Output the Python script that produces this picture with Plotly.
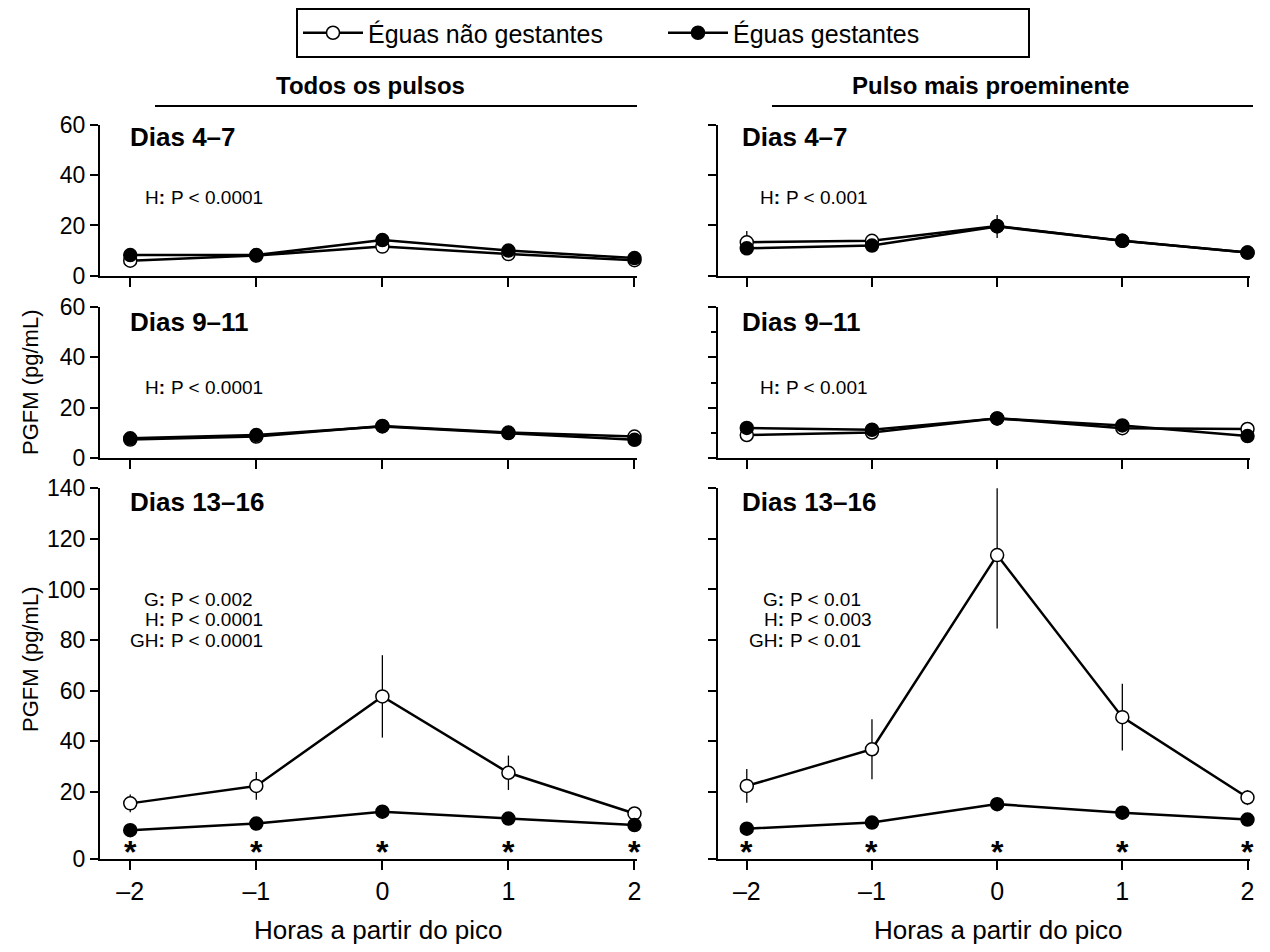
import plotly.graph_objects as go

# page has an 8px body margin; figure is sized to fit inside the window
OFF = 8
W, H = 1270 - 2 * OFF, 952 - 2 * OFF

hours = [-2, -1, 0, 1, 2]
hour_labels = ["–2", "–1", "0", "1", "2"]

series_names = ["Éguas não gestantes", "Éguas gestantes"]

# Todos os pulsos
all_d4_7_nao = [6.0, 8.0, 11.6, 8.6, 6.2]
all_d4_7_nao_err = [0.8, 0.6, 1.0, 0.8, 0.6]
all_d4_7_ges = [8.2, 8.2, 14.2, 10.0, 7.0]
all_d4_7_ges_err = [0.8, 0.6, 1.2, 0.8, 0.6]

all_d9_11_nao = [7.4, 8.6, 12.8, 10.2, 8.6]
all_d9_11_nao_err = [0.6, 0.6, 0.8, 0.6, 0.6]
all_d9_11_ges = [7.9, 9.2, 12.6, 10.0, 7.3]
all_d9_11_ges_err = [0.6, 0.6, 0.8, 0.6, 0.6]

all_d13_16_nao = [15.4, 22.3, 57.7, 27.5, 11.4]
all_d13_16_nao_err = [3.5, 5.5, 16.3, 6.8, 1.2]
all_d13_16_ges = [4.8, 7.4, 12.1, 9.4, 6.8]
all_d13_16_ges_err = [0.8, 0.8, 1.2, 1.0, 0.8]

# Pulso mais proeminente
top_d4_7_nao = [13.3, 13.9, 19.8, 13.9, 9.2]
top_d4_7_nao_err = [4.5, 2.5, 2.0, 1.0, 0.6]
top_d4_7_ges = [10.9, 12.0, 19.6, 13.9, 9.2]
top_d4_7_ges_err = [1.5, 1.0, 4.6, 1.5, 0.8]

top_d9_11_nao = [9.2, 10.2, 15.8, 11.9, 11.6]
top_d9_11_nao_err = [0.8, 0.8, 1.0, 0.8, 0.8]
top_d9_11_ges = [12.0, 11.3, 15.8, 13.0, 8.8]
top_d9_11_ges_err = [0.8, 0.8, 1.0, 0.8, 0.8]

top_d13_16_nao = [22.3, 36.8, 113.6, 49.5, 17.7]
top_d13_16_nao_err = [6.7, 11.9, 29.0, 13.2, 3.0]
top_d13_16_ges = [5.4, 7.8, 15.1, 11.7, 9.0]
top_d13_16_ges_err = [1.0, 1.0, 2.6, 2.0, 1.0]

panel_labels = ["Dias 4–7", "Dias 9–11", "Dias 13–16"]
col_titles = ["Todos os pulsos", "Pulso mais proeminente"]
stats_left = [["H: P < 0.0001"], ["H: P < 0.0001"],
              [("G", "P < 0.002"), ("H", "P < 0.0001"), ("GH", "P < 0.0001")]]
stats_right = [["H: P < 0.001"], ["H: P < 0.001"],
               [("G", "P < 0.01"), ("H", "P < 0.003"), ("GH", "P < 0.01")]]

y_ticks_small = [0, 20, 40, 60]
y_ticks_big = [20, 40, 60, 80, 100, 120, 140]
y_ticks_big_labels = ["20", "40", "60", "80", "100", "120", "140"]
asterisk_y = -4.0
big_bottom = -6.6

FONT = "Arial, Liberation Sans, sans-serif"


def fx(px):
    return (px - OFF) / W


def fy(py):
    return 1 - (py - OFF) / H


panels = [
    (all_d4_7_nao, all_d4_7_nao_err, all_d4_7_ges, all_d4_7_ges_err),
    (top_d4_7_nao, top_d4_7_nao_err, top_d4_7_ges, top_d4_7_ges_err),
    (all_d9_11_nao, all_d9_11_nao_err, all_d9_11_ges, all_d9_11_ges_err),
    (top_d9_11_nao, top_d9_11_nao_err, top_d9_11_ges, top_d9_11_ges_err),
    (all_d13_16_nao, all_d13_16_nao_err, all_d13_16_ges, all_d13_16_ges_err),
    (top_d13_16_nao, top_d13_16_nao_err, top_d13_16_ges, top_d13_16_ges_err),
]

x_domains = [[fx(100), fx(637)], [fx(718), fx(1250)]]
y_domains = [[fy(275.7), fy(125)], [fy(458.3), fy(306.7)], [fy(859), fy(488.3)]]
x_ranges = [[-2.24, 2.02], [-2.23, 2.02]]

fig = go.Figure()

for i, (nao, nao_e, ges, ges_e) in enumerate(panels):
    k = i + 1
    xa = "x" if k == 1 else f"x{k}"
    ya = "y" if k == 1 else f"y{k}"
    fig.add_trace(go.Scatter(
        x=hours, y=nao, xaxis=xa, yaxis=ya, mode="lines+markers",
        name=series_names[0], showlegend=(k == 1), legendrank=1,
        line=dict(color="black", width=2.5),
        marker=dict(symbol="circle", size=13, color="white",
                    line=dict(color="black", width=1.5)),
        error_y=dict(type="data", array=nao_e, visible=True, color="black",
                     thickness=1.3, width=0),
        cliponaxis=False,
    ))
    fig.add_trace(go.Scatter(
        x=hours, y=ges, xaxis=xa, yaxis=ya, mode="lines+markers",
        name=series_names[1], showlegend=(k == 1), legendrank=2,
        line=dict(color="black", width=2.5),
        marker=dict(symbol="circle", size=13, color="black",
                    line=dict(color="black", width=1.5)),
        error_y=dict(type="data", array=ges_e, visible=True, color="black",
                     thickness=1.3, width=0),
        cliponaxis=False,
    ))

layout = dict(
    width=W, height=H,
    margin=dict(l=0, r=0, t=0, b=0, autoexpand=False),
    paper_bgcolor="white", plot_bgcolor="white",
    font=dict(family=FONT, color="black", size=22),
    showlegend=True,
    legend=dict(
        orientation="h", x=fx(663), xanchor="center", y=fy(8), yanchor="top",
        bordercolor="black", borderwidth=2, bgcolor="white",
        font=dict(size=25, family=FONT), itemwidth=60,
        entrywidth=290, entrywidthmode="pixels",
    ),
)

for i in range(6):
    k = i + 1
    row, col = i // 2, i % 2
    xkey = "xaxis" if k == 1 else f"xaxis{k}"
    ykey = "yaxis" if k == 1 else f"yaxis{k}"
    yanchor = "y" if k == 1 else f"y{k}"
    xanchor = "x" if k == 1 else f"x{k}"
    bottom = row == 2
    layout[xkey] = dict(
        domain=x_domains[col], anchor=yanchor, range=x_ranges[col],
        showgrid=False, zeroline=False, showline=True, linecolor="black",
        linewidth=2, ticks="outside", ticklen=9, tickwidth=2, tickcolor="black",
        tickvals=hours, ticktext=hour_labels, showticklabels=bottom,
        tickfont=dict(size=25, family=FONT),
    )
    if bottom:
        yr = [big_bottom, 140]
        tv = [big_bottom] + y_ticks_big
        tt = ["0"] + y_ticks_big_labels
    else:
        yr = [0, 60]
        tv = y_ticks_small
        tt = [str(v) for v in y_ticks_small]
    yd = dict(
        domain=y_domains[row], anchor=xanchor, range=yr,
        showgrid=False, zeroline=False, showline=True, linecolor="black",
        linewidth=2, ticks="outside", ticklen=8, tickwidth=2, tickcolor="black",
        tickvals=tv, ticktext=tt, showticklabels=(col == 0),
        tickfont=dict(size=23, family=FONT),
    )
    if col == 1 and row == 1:
        yd["minor"] = dict(ticks="outside", ticklen=5, tickwidth=1.5,
                           tickcolor="black", dtick=10, tick0=0)
    layout[ykey] = yd

annotations = []
shapes = []

title_cx = [370, 990]
line_x = [[155, 637], [772, 1253]]
for c in range(2):
    annotations.append(dict(
        x=fx(title_cx[c]), y=fy(85), xref="paper", yref="paper",
        text=f"<b>{col_titles[c]}</b>", showarrow=False,
        font=dict(size=24, family=FONT), xanchor="center", yanchor="middle"))
    shapes.append(dict(type="line", xref="paper", yref="paper",
                       x0=fx(line_x[c][0]), x1=fx(line_x[c][1]),
                       y0=fy(106), y1=fy(106),
                       line=dict(color="black", width=2)))

label_y = [137, 322, 502]
label_x = [128, 740]
for r in range(3):
    for c in range(2):
        annotations.append(dict(
            x=fx(label_x[c]), y=fy(label_y[r]), xref="paper", yref="paper",
            text=f"<b>{panel_labels[r]}</b>", showarrow=False,
            font=dict(size=26, family=FONT), xanchor="left", yanchor="middle"))

STAT_FONT = dict(size=19, family=FONT)
stat_y_single = [198, 387]
colon_x_single = [164, 779]
colon_x_multi = [164, 783]
for c, stats in enumerate([stats_left, stats_right]):
    for r in range(2):
        lab, rest = stats[r][0].split(": ", 1)
        annotations.append(dict(
            x=fx(colon_x_single[c] + 3), y=fy(stat_y_single[r]), xref="paper",
            yref="paper", text=f"{lab}<b>:</b>", showarrow=False, font=STAT_FONT,
            xanchor="right", yanchor="middle"))
        annotations.append(dict(
            x=fx(colon_x_single[c] + 5), y=fy(stat_y_single[r]), xref="paper",
            yref="paper", text=rest, showarrow=False, font=STAT_FONT,
            xanchor="left", yanchor="middle"))
    for j, (lab, rest) in enumerate(stats[2]):
        yy = 599 + 20.5 * j
        annotations.append(dict(
            x=fx(colon_x_multi[c] + 3), y=fy(yy), xref="paper", yref="paper",
            text=f"{lab}<b>:</b>", showarrow=False, font=STAT_FONT,
            xanchor="right", yanchor="middle"))
        annotations.append(dict(
            x=fx(colon_x_multi[c] + 5), y=fy(yy), xref="paper", yref="paper",
            text=rest, showarrow=False, font=STAT_FONT,
            xanchor="left", yanchor="middle"))

for k in (5, 6):
    for h in hours:
        annotations.append(dict(
            x=h, y=asterisk_y, xref=f"x{k}", yref=f"y{k}", text="<b>*</b>",
            showarrow=False, font=dict(size=32, family=FONT),
            xanchor="center", yanchor="middle"))

for yy in (383, 660):
    annotations.append(dict(
        x=fx(30), y=fy(yy), xref="paper", yref="paper", text="PGFM (pg/mL)",
        showarrow=False, textangle=-90, font=dict(size=22, family=FONT),
        xanchor="center", yanchor="middle"))

for cx in (378, 998):
    annotations.append(dict(
        x=fx(cx), y=fy(930), xref="paper", yref="paper",
        text="Horas a partir do pico", showarrow=False,
        font=dict(size=26, family=FONT), xanchor="center", yanchor="middle"))

layout["annotations"] = annotations
layout["shapes"] = shapes
fig.update_layout(**layout)

fig.write_html("out.html")
